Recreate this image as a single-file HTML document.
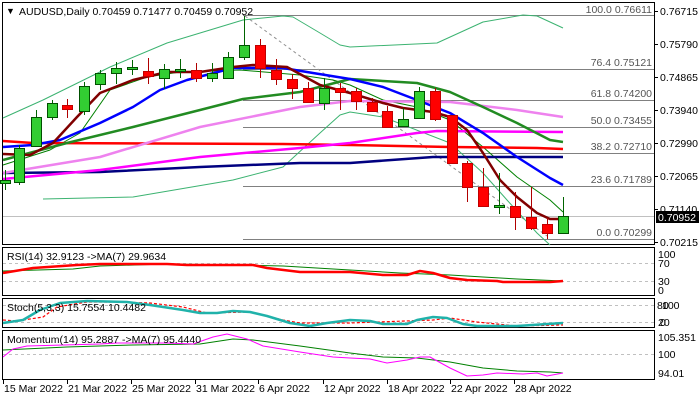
<!DOCTYPE html>
<html><head><meta charset="utf-8">
<style>
html,body{margin:0;padding:0;background:#fff;}
svg{display:block;font-family:"Liberation Sans",sans-serif;}
text{font-size:10.5px;fill:#000;}
.fib{font-size:10.5px;fill:#555;}
</style></head><body>
<svg width="700" height="400" viewBox="0 0 700 400" xmlns="http://www.w3.org/2000/svg">
<rect width="700" height="400" fill="#fff"/>
<!-- panel borders -->
<g fill="none" stroke="#000" stroke-width="1">
<rect x="2.5" y="2.5" width="652" height="242"/>
<rect x="2.5" y="247.5" width="652" height="48"/>
<rect x="2.5" y="298.5" width="652" height="29"/>
<rect x="2.5" y="330.5" width="652" height="49"/>
</g>
<!-- fib lines -->
<g stroke="#808080" stroke-width="1">
<line x1="243" y1="15.5" x2="654" y2="15.5"/>
<line x1="243" y1="69.5" x2="654" y2="69.5"/>
<line x1="243" y1="100.5" x2="654" y2="100.5"/>
<line x1="243" y1="127.5" x2="654" y2="127.5"/>
<line x1="243" y1="153.5" x2="654" y2="153.5"/>
<line x1="243" y1="186.5" x2="654" y2="186.5"/>
<line x1="243" y1="239.5" x2="654" y2="239.5"/>
</g>
<line x1="3" y1="216.5" x2="654" y2="216.5" stroke="#c0c0c0"/>
<line x1="245" y1="16" x2="547" y2="236" stroke="#909090" stroke-dasharray="3,3"/>
<g class="fib" text-anchor="end">
<text class="fib" x="652" y="13">100.0 0.76611</text>
<text class="fib" x="652" y="66">76.4 0.75121</text>
<text class="fib" x="652" y="97">61.8 0.74200</text>
<text class="fib" x="652" y="124">50.0 0.73455</text>
<text class="fib" x="652" y="150">38.2 0.72710</text>
<text class="fib" x="652" y="183">23.6 0.71789</text>
<text class="fib" x="652" y="236">0.0 0.70299</text>
</g>
<!-- MAs -->
<g fill="none" stroke-linejoin="round">
<polyline stroke="#3cb371" stroke-width="1" points="3,118 43,100 110,67 167,43 243,20 283,16 293,17 320,33 340,45 350,47 437,43 483,22 523,15 537,16 563,28"/>
<polyline stroke="#3cb371" stroke-width="1" points="43,199 133,197 233,180 283,167 320,133 340,115 350,112 383,117 450,143 483,173 507,200 537,233 550,245"/>
<polyline stroke="#008000" stroke-width="1" points="3,165 50,150 80,133 110,90 147,77 180,72 240,70 300,75 333,80 350,85 383,100 417,107 450,120 483,147 517,177 550,200 563,212"/>
<polyline stroke="#000080" stroke-width="2.5" points="3,173 100,172 200,167 300,163 350,163 433,157 563,157"/>
<polyline stroke="#ff0000" stroke-width="2.5" points="3,141 33,143 283,144 350,145 450,147 537,148 563,149"/>
<polyline stroke="#ff00ff" stroke-width="2.5" points="3,179 100,170 200,157 300,148 350,143 417,133 437,131 563,132"/>
<polyline stroke="#ee82ee" stroke-width="2.5" points="3,173 100,157 200,127 300,107 350,101 450,102 517,110 563,117"/>
<polyline stroke="#228b22" stroke-width="2.5" points="3,160 67,143 133,127 200,110 243,99 300,92 350,79 417,83 450,92 483,107 517,123 550,140 563,142"/>
<polyline stroke="#0000ff" stroke-width="2.5" points="3,147 33,145 60,140 100,123 133,107 160,90 187,80 233,68 283,68 313,73 350,79 383,87 417,100 450,113 483,133 517,157 550,178 563,185"/>
<polyline stroke="#800000" stroke-width="2.5" points="3,154 30,155 53,143 77,117 100,93 133,80 167,72 200,72 233,67 253,65 287,67 320,85 350,93 383,103 403,108 433,112 450,117 467,130 483,153 500,180 517,197 537,213 550,219 560,219"/>
</g>
<!-- candles -->
<g id="c" stroke-width="1"></g>
<!-- price axis -->
<g>
<line x1="654" y1="11.5" x2="658" y2="11.5" stroke="#000"/><text x="660" y="15">0.76715</text>
<line x1="654" y1="44.5" x2="658" y2="44.5" stroke="#000"/><text x="660" y="48">0.75790</text>
<line x1="654" y1="77.5" x2="658" y2="77.5" stroke="#000"/><text x="660" y="81">0.74865</text>
<line x1="654" y1="110.5" x2="658" y2="110.5" stroke="#000"/><text x="660" y="114">0.73940</text>
<line x1="654" y1="143.5" x2="658" y2="143.5" stroke="#000"/><text x="660" y="147">0.72990</text>
<line x1="654" y1="176.5" x2="658" y2="176.5" stroke="#000"/><text x="660" y="180">0.72065</text>
<line x1="654" y1="209.5" x2="658" y2="209.5" stroke="#000"/><text x="660" y="213">0.71140</text>
<line x1="654" y1="242.5" x2="658" y2="242.5" stroke="#000"/><text x="660" y="246">0.70215</text>
<rect x="656" y="211" width="43" height="12" fill="#000"/><text x="658" y="221" style="fill:#fff">0.70952</text>
</g>
<text x="6" y="14" style="font-size:9px">▼</text>
<text x="19" y="15">AUDUSD,Daily  0.70459 0.71477 0.70459 0.70952</text>
<!-- RSI -->
<g stroke="#c0c0c0" stroke-dasharray="3,3">
<line x1="3" y1="263.5" x2="654" y2="263.5"/><line x1="3" y1="281.5" x2="654" y2="281.5"/>
<line x1="3" y1="305.5" x2="654" y2="305.5"/><line x1="3" y1="322.5" x2="654" y2="322.5"/>
<line x1="3" y1="354.5" x2="654" y2="354.5"/>
</g>
<g fill="none" stroke-linejoin="round">
<polyline stroke="#008000" stroke-width="1" points="3,271 73,269 100,266 167,264 233,265 283,266 350,270 400,273 450,275 483,277 517,279 563,281"/>
<polyline stroke="#ff0000" stroke-width="2.5" points="3,273 33,268 77,265 100,264 167,264 187,265 253,265 267,268 300,272 350,272 383,275 407,275 420,271 433,273 450,278 467,280 497,281 503,282 550,282 563,281"/>
<polyline stroke="#ff0000" stroke-width="1.2" stroke-dasharray="3,2" points="3,320 17,321 43,317 57,307 87,302 117,302 150,303 183,307 207,313 250,312 283,320 300,323 350,323 433,320 450,318 477,322 517,326 563,325"/>
<polyline stroke="#20b2aa" stroke-width="2.5" points="3,323 23,320 40,310 60,303 87,301 127,302 150,305 183,310 200,313 217,313 233,311 250,312 267,316 290,323 310,326 327,323 350,320 370,321 383,324 407,324 417,320 433,317 447,318 463,324 477,326 517,326 563,323"/>
<polyline stroke="#008000" stroke-width="1" points="3,350 67,347 133,345 200,344 233,339 253,340 300,346 350,353 383,357 417,358 450,362 483,368 517,371 550,372 563,373"/>
<polyline stroke="#ff00ff" stroke-width="1" points="3,357 13,349 27,346 100,344 117,343 167,343 193,344 213,337 227,334 247,339 263,346 300,352 333,357 350,358 370,359 387,363 407,360 420,357 430,357 450,368 467,376 483,375 497,373 523,374 537,373 547,376 563,373"/>
</g>
<text x="7" y="260">RSI(14) 32.9123  -&gt;MA(7) 29.9634</text>
<text x="7" y="311">Stoch(5,3,3) 15.7554 10.4482</text>
<text x="7" y="343">Momentum(14) 95.2887  -&gt;MA(7) 95.4440</text>
<g>
<text x="658" y="258">100</text><text x="658" y="267">70</text><text x="658" y="285">30</text><text x="658" y="294">0</text>
<text x="657" y="309">80</text><text x="662" y="309">100</text>
<text x="658" y="326">20</text><text x="660" y="326">0</text>
<text x="658" y="341">105.351</text><text x="658" y="358">100</text><text x="658" y="377">94.01</text>
</g>
<!-- date axis -->
<g id="d"></g>
</svg>
<script>
var C=[[5,180,183,170,190,1],[19,148,182,145,185,1],[36,117,146,110,146,1],[52,103,117,100,120,1],[67,105,109,99,118,0],[84,86,111,82,115,1],[100,73,84,70,90,1],[116,68,73,62,84,1],[132,67,69,60,75,1],[148,71,76,58,84,0],[164,69,78,64,89,1],[180,69,71,59,78,1],[196,70,78,63,82,0],[212,73,78,63,82,1],[228,57,78,52,79,1],[244,45,57,16,60,1],[260,45,68,39,78,0],[276,70,79,59,85,0],[292,79,88,74,99,0],[308,88,102,82,103,0],[324,88,103,78,110,1],[340,88,92,83,110,0],[356,91,101,88,110,0],[372,102,111,98,112,0],[387,111,127,106,128,0],[403,119,126,108,126,1],[419,91,118,87,118,1],[435,91,119,88,121,0],[452,115,163,115,163,0],[467,163,187,161,202,0],[483,187,206,168,207,0],[499,205,207,173,214,1],[515,206,217,192,230,0],[531,217,228,187,230,0],[547,224,233,218,239,0],[563,216,233,197,233,1]];
var s='';C.forEach(function(c){var x=c[0]+.5,col=c[5]?'#006400':'#b00000',f=c[5]?'#32cd32':'#ff0000';
s+='<line x1="'+x+'" y1="'+c[3]+'" x2="'+x+'" y2="'+c[4]+'" stroke="'+col+'"/>';
var h=Math.max(1,c[2]-c[1]);s+='<rect x="'+(c[0]-4.5)+'" y="'+(c[1]+.5)+'" width="10" height="'+h+'" fill="'+f+'" stroke="'+(c[5]?'#005000':'#c00000')+'"/>';});
document.getElementById('c').innerHTML=s;
var D=[[3,'15 Mar 2022'],[67,'21 Mar 2022'],[131,'25 Mar 2022'],[195,'31 Mar 2022'],[258,'6 Apr 2022'],[323,'12 Apr 2022'],[387,'18 Apr 2022'],[450,'22 Apr 2022'],[514,'28 Apr 2022']];
var t='';D.forEach(function(d){t+='<line x1="'+(d[0]+.5)+'" y1="380" x2="'+(d[0]+.5)+'" y2="384" stroke="#000"/><text x="'+(d[0]+1)+'" y="392">'+d[1]+'</text>';});
document.getElementById('d').innerHTML=t;
</script>
</body></html>
